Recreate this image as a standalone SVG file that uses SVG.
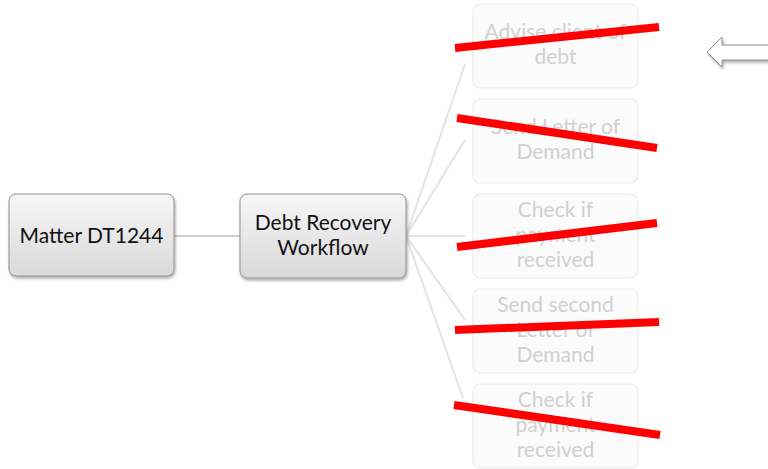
<svg xmlns="http://www.w3.org/2000/svg" width="768" height="469" viewBox="0 0 768 469">
  <defs>
    <linearGradient id="nodeFill" x1="0" y1="0" x2="0" y2="1">
      <stop offset="0" stop-color="#f7f7f7"/>
      <stop offset="1" stop-color="#d9d9d9"/>
    </linearGradient>
    <filter id="shadow" x="-10%" y="-10%" width="125%" height="130%">
      <feGaussianBlur in="SourceAlpha" stdDeviation="1.5"/>
      <feOffset dx="1" dy="2" result="b"/>
      <feComponentTransfer><feFuncA type="linear" slope="0.35"/></feComponentTransfer>
      <feMerge><feMergeNode/><feMergeNode in="SourceGraphic"/></feMerge>
    </filter>
  </defs>
  <style>
    .txt { font-family: Lato, "Open Sans", "Liberation Sans", sans-serif; font-size: 21px; text-anchor: middle; }
    .main rect { fill: url(#nodeFill); stroke: #8f8f8f; stroke-width: 1; filter: url(#shadow); }
    .main text { fill: #111; }
    .faded rect { fill: #fbfbfb; stroke: #ececec; stroke-width: 1.2; }
    .faded text { fill: #d0d0d0; }
    .link { stroke: #cfcfcf; stroke-width: 2; fill: none; }
    .link.faint { stroke: #e3e3e3; }
    .strike { stroke: #ff0000; stroke-width: 8; }
  </style>
  <rect width="768" height="469" fill="#ffffff"/>

  <g id="connectors">
    <line class="link" x1="174" y1="236" x2="240" y2="236"/>
    <line class="link faint" x1="406" y1="236" x2="465" y2="64"/>
    <line class="link faint" x1="406" y1="236" x2="465" y2="140"/>
    <line class="link faint" x1="406" y1="236" x2="465" y2="236"/>
    <line class="link faint" x1="406" y1="236" x2="465" y2="320"/>
    <line class="link faint" x1="406" y1="236" x2="463" y2="398"/>
  </g>

  <g id="matter" class="main">
    <rect x="9" y="194" width="165" height="82" rx="7"/>
    <text class="txt" x="91.5" y="243">Matter DT1244</text>
  </g>

  <g id="workflow" class="main">
    <rect x="240" y="194" width="166" height="84" rx="7"/>
    <text class="txt" x="323" y="230">Debt Recovery</text>
    <text class="txt" x="323" y="255">Workflow</text>
  </g>

  <g id="step1" class="faded">
    <rect x="473" y="4" width="165" height="84" rx="7"/>
    <text class="txt" x="555.5" y="39">Advise client of</text>
    <text class="txt" x="555.5" y="64">debt</text>
  </g>
  <g id="step2" class="faded">
    <rect x="473" y="99" width="165" height="84" rx="7"/>
    <text class="txt" x="555.5" y="134">Send Letter of</text>
    <text class="txt" x="555.5" y="159">Demand</text>
  </g>
  <g id="step3" class="faded">
    <rect x="473" y="194" width="165" height="84" rx="7"/>
    <text class="txt" x="555.5" y="217">Check if</text>
    <text class="txt" x="555.5" y="242">payment</text>
    <text class="txt" x="555.5" y="267">received</text>
  </g>
  <g id="step4" class="faded">
    <rect x="473" y="289" width="165" height="84" rx="7"/>
    <text class="txt" x="555.5" y="312">Send second</text>
    <text class="txt" x="555.5" y="337">Letter of</text>
    <text class="txt" x="555.5" y="362">Demand</text>
  </g>
  <g id="step5" class="faded">
    <rect x="473" y="384" width="165" height="84" rx="7"/>
    <text class="txt" x="555.5" y="407">Check if</text>
    <text class="txt" x="555.5" y="432">payment</text>
    <text class="txt" x="555.5" y="457">received</text>
  </g>

  <g id="strikes">
    <line class="strike" x1="455" y1="48" x2="659" y2="27"/>
    <line class="strike" x1="457" y1="118" x2="657" y2="148"/>
    <line class="strike" x1="457" y1="247" x2="657" y2="223"/>
    <line class="strike" x1="455" y1="330" x2="659" y2="322"/>
    <line class="strike" x1="454" y1="405" x2="660" y2="435"/>
  </g>

  <g id="pointer">
    <path d="M707,52 L722,37 L722,45 L770,45 L770,60 L722,60 L722,67 Z" fill="#ffffff" stroke="#8c8c8c" stroke-width="1" filter="url(#shadow)"/>
  </g>
</svg>
